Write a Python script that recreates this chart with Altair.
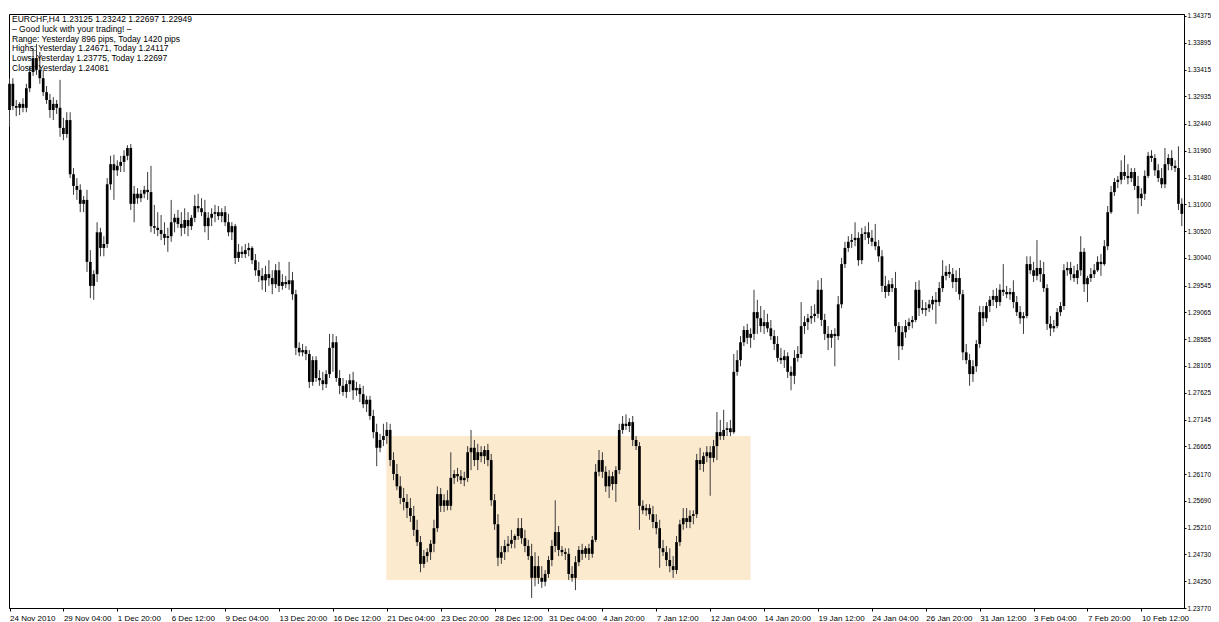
import json
import altair as alt
import pandas as pd

# ---- EURCHF H4 candles ----
opens = [
    1.3269, 1.3316, 1.3276, 1.3273, 1.3280, 1.3273, 1.3308, 1.3337, 1.3362, 1.3341, 1.3326, 1.3301, 1.3287, 1.3269, 1.3280, 1.3273,
    1.3237, 1.3226, 1.3251, 1.3154, 1.3133, 1.3126, 1.3101, 1.3108, 1.2997, 1.2954, 1.2975, 1.3050, 1.3022, 1.3029, 1.3136, 1.3172,
    1.3161, 1.3169, 1.3176, 1.3187, 1.3201, 1.3101, 1.3119, 1.3111, 1.3119, 1.3126, 1.3122, 1.3061, 1.3058, 1.3054, 1.3047, 1.3040,
    1.3043, 1.3068, 1.3076, 1.3065, 1.3058, 1.3072, 1.3061, 1.3076, 1.3097, 1.3093, 1.3086, 1.3061, 1.3076, 1.3083, 1.3086, 1.3079,
    1.3086, 1.3068, 1.3050, 1.3061, 1.3004, 1.3015, 1.3011, 1.3018, 1.3022, 1.3000, 1.2982, 1.2972, 1.2964, 1.2975, 1.2968, 1.2957,
    1.2982, 1.2954, 1.2961, 1.2957, 1.2964, 1.2939, 1.2843, 1.2835, 1.2839, 1.2832, 1.2782, 1.2821, 1.2789, 1.2785, 1.2778, 1.2796,
    1.2843, 1.2853, 1.2789, 1.2775, 1.2764, 1.2778, 1.2785, 1.2767, 1.2771, 1.2760, 1.2742, 1.2750, 1.2721, 1.2692, 1.2664, 1.2678,
    1.2685, 1.2696, 1.2642, 1.2617, 1.2595, 1.2574, 1.2567, 1.2556, 1.2542, 1.2517, 1.2495, 1.2456, 1.2470, 1.2477, 1.2492, 1.2520,
    1.2581, 1.2560, 1.2570, 1.2560, 1.2610, 1.2617, 1.2613, 1.2606, 1.2610, 1.2656, 1.2664, 1.2642, 1.2656, 1.2649, 1.2660, 1.2642,
    1.2570, 1.2527, 1.2467, 1.2477, 1.2488, 1.2492, 1.2499, 1.2506, 1.2520, 1.2502, 1.2488, 1.2470, 1.2431, 1.2452, 1.2431, 1.2424,
    1.2438, 1.2463, 1.2488, 1.2513, 1.2481, 1.2477, 1.2474, 1.2438, 1.2431, 1.2459, 1.2481, 1.2474, 1.2484, 1.2474, 1.2499, 1.2621,
    1.2642, 1.2621, 1.2595, 1.2613, 1.2599, 1.2624, 1.2696, 1.2707, 1.2703, 1.2710, 1.2678, 1.2667, 1.2560, 1.2552, 1.2556, 1.2545,
    1.2531, 1.2520, 1.2484, 1.2477, 1.2463, 1.2452, 1.2445, 1.2495, 1.2527, 1.2538, 1.2531, 1.2542, 1.2545, 1.2642, 1.2635, 1.2649,
    1.2656, 1.2646, 1.2667, 1.2692, 1.2685, 1.2696, 1.2699, 1.2692, 1.2800, 1.2821, 1.2853, 1.2875, 1.2861, 1.2868, 1.2907, 1.2896,
    1.2882, 1.2889, 1.2878, 1.2864, 1.2850, 1.2825, 1.2821, 1.2828, 1.2800, 1.2793, 1.2825, 1.2832, 1.2882, 1.2889, 1.2896, 1.2900,
    1.2904, 1.2947, 1.2893, 1.2868, 1.2861, 1.2868, 1.2864, 1.2921, 1.2993, 1.3022, 1.3033, 1.3036, 1.3040, 1.3000, 1.3047, 1.3050,
    1.3040, 1.3033, 1.3025, 1.3007, 1.2954, 1.2943, 1.2957, 1.2950, 1.2882, 1.2846, 1.2871, 1.2882, 1.2889, 1.2893, 1.2947, 1.2914,
    1.2911, 1.2914, 1.2921, 1.2929, 1.2925, 1.2950, 1.2972, 1.2979, 1.2975, 1.2961, 1.2968, 1.2939, 1.2835, 1.2821, 1.2796, 1.2810,
    1.2850, 1.2907, 1.2896, 1.2918, 1.2929, 1.2936, 1.2925, 1.2947, 1.2943, 1.2939, 1.2943, 1.2925, 1.2907, 1.2896, 1.2900, 1.2993,
    1.2982, 1.2972, 1.2986, 1.2975, 1.2950, 1.2886, 1.2878, 1.2882, 1.2907, 1.2918, 1.2982, 1.2986, 1.2975, 1.2968, 1.2982, 1.3015,
    1.2957, 1.2968, 1.2975, 1.2982, 1.2997, 1.2993, 1.3025, 1.3086, 1.3122, 1.3140, 1.3144, 1.3158, 1.3151, 1.3147, 1.3158, 1.3133,
    1.3111, 1.3119, 1.3151, 1.3187, 1.3183, 1.3161, 1.3147, 1.3136, 1.3172, 1.3183, 1.3169, 1.3165, 1.3101,
]
highs = [
    1.3326, 1.3326, 1.3287, 1.3283, 1.3290, 1.3316, 1.3348, 1.3380, 1.3387, 1.3373, 1.3341, 1.3312, 1.3298, 1.3292, 1.3287, 1.3323,
    1.3255, 1.3265, 1.3265, 1.3165, 1.3147, 1.3136, 1.3115, 1.3126, 1.3018, 1.2982, 1.3068, 1.3058, 1.3043, 1.3147, 1.3187, 1.3189,
    1.3179, 1.3187, 1.3197, 1.3206, 1.3208, 1.3133, 1.3129, 1.3126, 1.3133, 1.3158, 1.3169, 1.3099, 1.3086, 1.3081, 1.3068, 1.3058,
    1.3108, 1.3083, 1.3090, 1.3086, 1.3093, 1.3086, 1.3081, 1.3117, 1.3119, 1.3111, 1.3108, 1.3086, 1.3093, 1.3099, 1.3097, 1.3093,
    1.3097, 1.3083, 1.3068, 1.3065, 1.3029, 1.3025, 1.3029, 1.3031, 1.3025, 1.3011, 1.2997, 1.2986, 1.2990, 1.3000, 1.2982, 1.2993,
    1.2997, 1.2975, 1.2972, 1.2997, 1.2979, 1.2947, 1.2853, 1.2850, 1.2846, 1.2839, 1.2828, 1.2828, 1.2803, 1.2800, 1.2803, 1.2868,
    1.2868, 1.2864, 1.2803, 1.2789, 1.2785, 1.2796, 1.2800, 1.2782, 1.2778, 1.2775, 1.2757, 1.2757, 1.2732, 1.2707, 1.2689, 1.2707,
    1.2710, 1.2707, 1.2656, 1.2635, 1.2613, 1.2592, 1.2581, 1.2574, 1.2560, 1.2535, 1.2506, 1.2481, 1.2484, 1.2499, 1.2535, 1.2595,
    1.2592, 1.2581, 1.2588, 1.2656, 1.2624, 1.2628, 1.2624, 1.2621, 1.2667, 1.2696, 1.2678, 1.2671, 1.2667, 1.2667, 1.2671, 1.2653,
    1.2581, 1.2545, 1.2488, 1.2499, 1.2506, 1.2517, 1.2509, 1.2538, 1.2538, 1.2517, 1.2499, 1.2492, 1.2477, 1.2470, 1.2452, 1.2445,
    1.2470, 1.2499, 1.2570, 1.2524, 1.2488, 1.2484, 1.2484, 1.2452, 1.2470, 1.2488, 1.2492, 1.2488, 1.2492, 1.2506, 1.2635, 1.2660,
    1.2656, 1.2631, 1.2624, 1.2621, 1.2631, 1.2707, 1.2721, 1.2724, 1.2717, 1.2721, 1.2685, 1.2674, 1.2570, 1.2563, 1.2563, 1.2560,
    1.2545, 1.2535, 1.2499, 1.2488, 1.2484, 1.2470, 1.2506, 1.2535, 1.2556, 1.2556, 1.2552, 1.2552, 1.2653, 1.2664, 1.2656, 1.2667,
    1.2667, 1.2678, 1.2728, 1.2714, 1.2732, 1.2710, 1.2714, 1.2832, 1.2839, 1.2864, 1.2882, 1.2886, 1.2878, 1.2947, 1.2929, 1.2918,
    1.2911, 1.2904, 1.2893, 1.2875, 1.2864, 1.2843, 1.2839, 1.2835, 1.2810, 1.2839, 1.2846, 1.2925, 1.2900, 1.2904, 1.2918, 1.2921,
    1.2964, 1.2968, 1.2904, 1.2882, 1.2875, 1.2878, 1.2936, 1.3004, 1.3033, 1.3043, 1.3047, 1.3068, 1.3050, 1.3058, 1.3061, 1.3068,
    1.3054, 1.3065, 1.3036, 1.3018, 1.2972, 1.2964, 1.2968, 1.2979, 1.2889, 1.2882, 1.2893, 1.2896, 1.2900, 1.2961, 1.2964, 1.2929,
    1.2925, 1.2929, 1.2936, 1.2943, 1.2961, 1.3000, 1.2990, 1.2993, 1.2986, 1.2982, 1.2986, 1.2947, 1.2850, 1.2832, 1.2821, 1.2857,
    1.2918, 1.2918, 1.2925, 1.2936, 1.2947, 1.2950, 1.2957, 1.2993, 1.2954, 1.2950, 1.2964, 1.2936, 1.2918, 1.2907, 1.3007, 1.3007,
    1.2997, 1.3036, 1.3000, 1.2997, 1.2957, 1.2900, 1.2893, 1.2914, 1.2925, 1.2993, 1.2997, 1.2997, 1.2990, 1.2993, 1.3043, 1.3022,
    1.2972, 1.2986, 1.2993, 1.3007, 1.3011, 1.3036, 1.3097, 1.3133, 1.3147, 1.3151, 1.3179, 1.3188, 1.3172, 1.3165, 1.3165, 1.3151,
    1.3129, 1.3161, 1.3194, 1.3197, 1.3190, 1.3172, 1.3165, 1.3201, 1.3190, 1.3197, 1.3179, 1.3204, 1.3111,
]
lows = [
    1.3239, 1.3269, 1.3258, 1.3260, 1.3265, 1.3265, 1.3301, 1.3330, 1.3332, 1.3316, 1.3294, 1.3280, 1.3255, 1.3251, 1.3262, 1.3221,
    1.3215, 1.3219, 1.3147, 1.3117, 1.3108, 1.3086, 1.3086, 1.2979, 1.2932, 1.2929, 1.2961, 1.3007, 1.3007, 1.3022, 1.3126, 1.3108,
    1.3151, 1.3158, 1.3158, 1.3179, 1.3090, 1.3068, 1.3101, 1.3104, 1.3111, 1.3108, 1.3050, 1.3047, 1.3043, 1.3036, 1.3027, 1.3015,
    1.3033, 1.3050, 1.3058, 1.3043, 1.3047, 1.3043, 1.3054, 1.3068, 1.3086, 1.3079, 1.3050, 1.3036, 1.3061, 1.3068, 1.3072, 1.3068,
    1.3061, 1.3043, 1.3036, 1.2993, 1.2997, 1.3004, 1.3004, 1.3007, 1.2993, 1.2972, 1.2961, 1.2947, 1.2943, 1.2954, 1.2939, 1.2950,
    1.2943, 1.2947, 1.2950, 1.2947, 1.2929, 1.2830, 1.2828, 1.2828, 1.2821, 1.2771, 1.2775, 1.2782, 1.2775, 1.2767, 1.2771, 1.2789,
    1.2800, 1.2782, 1.2760, 1.2757, 1.2753, 1.2764, 1.2750, 1.2757, 1.2746, 1.2735, 1.2728, 1.2714, 1.2681, 1.2631, 1.2656, 1.2667,
    1.2671, 1.2631, 1.2606, 1.2588, 1.2563, 1.2552, 1.2538, 1.2531, 1.2506, 1.2488, 1.2441, 1.2449, 1.2459, 1.2463, 1.2477, 1.2513,
    1.2549, 1.2549, 1.2552, 1.2552, 1.2599, 1.2603, 1.2599, 1.2595, 1.2603, 1.2624, 1.2631, 1.2624, 1.2638, 1.2635, 1.2631, 1.2560,
    1.2517, 1.2452, 1.2456, 1.2463, 1.2477, 1.2484, 1.2484, 1.2499, 1.2492, 1.2477, 1.2463, 1.2395, 1.2416, 1.2420, 1.2413, 1.2416,
    1.2431, 1.2452, 1.2477, 1.2470, 1.2470, 1.2463, 1.2427, 1.2424, 1.2409, 1.2452, 1.2463, 1.2467, 1.2463, 1.2467, 1.2495, 1.2613,
    1.2610, 1.2585, 1.2574, 1.2588, 1.2567, 1.2617, 1.2689, 1.2696, 1.2692, 1.2667, 1.2660, 1.2517, 1.2545, 1.2542, 1.2535, 1.2520,
    1.2509, 1.2449, 1.2470, 1.2452, 1.2441, 1.2431, 1.2438, 1.2488, 1.2517, 1.2520, 1.2520, 1.2527, 1.2538, 1.2624, 1.2621, 1.2638,
    1.2578, 1.2638, 1.2642, 1.2678, 1.2678, 1.2685, 1.2685, 1.2689, 1.2793, 1.2810, 1.2846, 1.2850, 1.2843, 1.2857, 1.2868, 1.2871,
    1.2868, 1.2871, 1.2857, 1.2839, 1.2818, 1.2814, 1.2807, 1.2789, 1.2767, 1.2778, 1.2818, 1.2825, 1.2868, 1.2875, 1.2886, 1.2889,
    1.2896, 1.2882, 1.2857, 1.2839, 1.2843, 1.2810, 1.2857, 1.2914, 1.2986, 1.3015, 1.3022, 1.3025, 1.2990, 1.2993, 1.3036, 1.3029,
    1.3025, 1.3018, 1.2997, 1.2943, 1.2932, 1.2936, 1.2943, 1.2871, 1.2821, 1.2839, 1.2861, 1.2875, 1.2878, 1.2889, 1.2900, 1.2904,
    1.2900, 1.2907, 1.2911, 1.2886, 1.2918, 1.2943, 1.2964, 1.2968, 1.2950, 1.2943, 1.2929, 1.2821, 1.2814, 1.2775, 1.2782, 1.2800,
    1.2843, 1.2882, 1.2889, 1.2907, 1.2918, 1.2914, 1.2918, 1.2936, 1.2932, 1.2929, 1.2914, 1.2900, 1.2886, 1.2868, 1.2896, 1.2975,
    1.2961, 1.2964, 1.2961, 1.2943, 1.2875, 1.2864, 1.2871, 1.2878, 1.2900, 1.2911, 1.2972, 1.2964, 1.2961, 1.2957, 1.2972, 1.2943,
    1.2925, 1.2961, 1.2968, 1.2979, 1.2972, 1.2990, 1.3018, 1.3083, 1.3115, 1.3129, 1.3136, 1.3144, 1.3136, 1.3140, 1.3126, 1.3083,
    1.3097, 1.3108, 1.3147, 1.3176, 1.3151, 1.3140, 1.3129, 1.3129, 1.3161, 1.3161, 1.3158, 1.3090, 1.3061,
]
closes = [
    1.3316, 1.3276, 1.3273, 1.3280, 1.3273, 1.3308, 1.3337, 1.3362, 1.3341, 1.3326, 1.3301, 1.3287, 1.3269, 1.3280, 1.3273, 1.3237,
    1.3226, 1.3251, 1.3154, 1.3133, 1.3126, 1.3101, 1.3108, 1.2997, 1.2954, 1.2975, 1.3050, 1.3022, 1.3029, 1.3136, 1.3172, 1.3161,
    1.3169, 1.3176, 1.3187, 1.3201, 1.3101, 1.3119, 1.3111, 1.3119, 1.3126, 1.3122, 1.3061, 1.3058, 1.3054, 1.3047, 1.3040, 1.3043,
    1.3068, 1.3076, 1.3065, 1.3058, 1.3072, 1.3061, 1.3076, 1.3097, 1.3093, 1.3086, 1.3061, 1.3076, 1.3083, 1.3086, 1.3079, 1.3086,
    1.3068, 1.3050, 1.3061, 1.3004, 1.3015, 1.3011, 1.3018, 1.3022, 1.3000, 1.2982, 1.2972, 1.2964, 1.2975, 1.2968, 1.2957, 1.2982,
    1.2954, 1.2961, 1.2957, 1.2964, 1.2939, 1.2843, 1.2835, 1.2839, 1.2832, 1.2782, 1.2821, 1.2789, 1.2785, 1.2778, 1.2796, 1.2843,
    1.2853, 1.2789, 1.2775, 1.2764, 1.2778, 1.2785, 1.2767, 1.2771, 1.2760, 1.2742, 1.2750, 1.2721, 1.2692, 1.2664, 1.2678, 1.2685,
    1.2696, 1.2642, 1.2617, 1.2595, 1.2574, 1.2567, 1.2556, 1.2542, 1.2517, 1.2495, 1.2456, 1.2470, 1.2477, 1.2492, 1.2520, 1.2581,
    1.2560, 1.2570, 1.2560, 1.2610, 1.2617, 1.2613, 1.2606, 1.2610, 1.2656, 1.2664, 1.2642, 1.2656, 1.2649, 1.2660, 1.2642, 1.2570,
    1.2527, 1.2467, 1.2477, 1.2488, 1.2492, 1.2499, 1.2506, 1.2520, 1.2502, 1.2488, 1.2470, 1.2431, 1.2452, 1.2431, 1.2424, 1.2438,
    1.2463, 1.2488, 1.2513, 1.2481, 1.2477, 1.2474, 1.2438, 1.2431, 1.2459, 1.2481, 1.2474, 1.2484, 1.2474, 1.2499, 1.2621, 1.2642,
    1.2621, 1.2595, 1.2613, 1.2599, 1.2624, 1.2696, 1.2707, 1.2703, 1.2710, 1.2678, 1.2667, 1.2560, 1.2552, 1.2556, 1.2545, 1.2531,
    1.2520, 1.2484, 1.2477, 1.2463, 1.2452, 1.2445, 1.2495, 1.2527, 1.2538, 1.2531, 1.2542, 1.2545, 1.2642, 1.2635, 1.2649, 1.2656,
    1.2646, 1.2667, 1.2692, 1.2685, 1.2696, 1.2699, 1.2692, 1.2800, 1.2821, 1.2853, 1.2875, 1.2861, 1.2868, 1.2907, 1.2896, 1.2882,
    1.2889, 1.2878, 1.2864, 1.2850, 1.2825, 1.2821, 1.2828, 1.2800, 1.2793, 1.2825, 1.2832, 1.2882, 1.2889, 1.2896, 1.2900, 1.2904,
    1.2947, 1.2893, 1.2868, 1.2861, 1.2868, 1.2864, 1.2921, 1.2993, 1.3022, 1.3033, 1.3036, 1.3040, 1.3000, 1.3047, 1.3050, 1.3040,
    1.3033, 1.3025, 1.3007, 1.2954, 1.2943, 1.2957, 1.2950, 1.2882, 1.2846, 1.2871, 1.2882, 1.2889, 1.2893, 1.2947, 1.2914, 1.2911,
    1.2914, 1.2921, 1.2929, 1.2925, 1.2950, 1.2972, 1.2979, 1.2975, 1.2961, 1.2968, 1.2939, 1.2835, 1.2821, 1.2796, 1.2810, 1.2850,
    1.2907, 1.2896, 1.2918, 1.2929, 1.2936, 1.2925, 1.2947, 1.2943, 1.2939, 1.2943, 1.2925, 1.2907, 1.2896, 1.2900, 1.2993, 1.2982,
    1.2972, 1.2986, 1.2975, 1.2950, 1.2886, 1.2878, 1.2882, 1.2907, 1.2918, 1.2982, 1.2986, 1.2975, 1.2968, 1.2982, 1.3015, 1.2957,
    1.2968, 1.2975, 1.2982, 1.2997, 1.2993, 1.3025, 1.3086, 1.3122, 1.3140, 1.3144, 1.3158, 1.3151, 1.3147, 1.3158, 1.3133, 1.3111,
    1.3119, 1.3151, 1.3187, 1.3183, 1.3161, 1.3147, 1.3136, 1.3172, 1.3183, 1.3169, 1.3165, 1.3101, 1.3083,
]

# ---- axis texts ----
time_labels = [
    "24 Nov 2010", "29 Nov 04:00", "1 Dec 20:00", "6 Dec 12:00", "9 Dec 04:00", "13 Dec 20:00",
    "16 Dec 12:00", "21 Dec 04:00", "23 Dec 20:00", "28 Dec 12:00", "31 Dec 04:00", "4 Jan 20:00",
    "7 Jan 12:00", "12 Jan 04:00", "14 Jan 20:00", "19 Jan 12:00", "24 Jan 04:00", "26 Jan 20:00",
    "31 Jan 12:00", "3 Feb 04:00", "7 Feb 20:00", "10 Feb 12:00",
]
bars_per_label = 16
price_ticks = [
    1.34375, 1.33895, 1.33415, 1.32935, 1.32440, 1.31960, 1.31480, 1.31000, 1.30520, 1.30040,
    1.29545, 1.29065, 1.28585, 1.28105, 1.27625, 1.27145, 1.26665, 1.26170, 1.25690, 1.25210,
    1.24730, 1.24250, 1.23770,
]
comment_lines = [
    "EURCHF,H4  1.23125 1.23242 1.22697 1.22949",
    "\u2013 Good luck with your trading! \u2013",
    "Range: Yesterday 896 pips, Today 1420 pips",
    "Highs: Yesterday 1.24671, Today 1.24117",
    "Lows: Yesterday 1.23775, Today 1.22697",
    "Close: Yesterday 1.24081",
]

# ---- highlighted range box (bar index and price) ----
box_bars = [111.85, 220.0]
box_prices = [1.2427, 1.2685]

n = len(closes)
df = pd.DataFrame({
    "bar": list(range(n)),
    "open": opens, "high": highs, "low": lows, "close": closes,
})
box_df = pd.DataFrame({"x0": [box_bars[0]], "x1": [box_bars[1]],
                       "y0": [box_prices[0]], "y1": [box_prices[1]]})
text_df = pd.DataFrame({"t": ["\n".join(comment_lines)]})

FONT = "Liberation Sans"
x_scale = alt.Scale(domain=[-0.15, n - 0.35], nice=False, zero=False, padding=0)
y_scale = alt.Scale(domain=[1.2377, 1.3441], nice=False, zero=False, padding=0)

label_expr = json.dumps(time_labels) + "[round(datum.value / %d)]" % bars_per_label
x_axis = alt.Axis(
    values=list(range(0, len(time_labels) * bars_per_label, bars_per_label)),
    labelExpr=label_expr, title=None, grid=False,
    labelAlign="left", labelBaseline="top", labelFlush=False, labelOverlap=False,
    labelFont=FONT, labelFontSize=8, labelColor="black", labelPadding=3,
    tickColor="black", tickSize=3, domainColor="black",
)
y_axis = alt.Axis(
    orient="right", values=price_ticks, format=".5f", title=None, grid=False,
    labelFont=FONT, labelFontSize=6.5, labelColor="black", labelPadding=1,
    labelOverlap=False, labelFlush=False,
    tickColor="black", tickSize=2, domainColor="black",
)

box = alt.Chart(box_df).mark_rect(color="#FCEACF").encode(
    x=alt.X("x0:Q", scale=x_scale, axis=x_axis), x2="x1:Q",
    y=alt.Y("y0:Q", scale=y_scale, axis=y_axis), y2="y1:Q",
)

base = alt.Chart(df)
wicks = base.mark_rule(color="#3a3a3a", strokeWidth=1).encode(
    x=alt.X("bar:Q", scale=x_scale, axis=x_axis),
    y=alt.Y("low:Q", scale=y_scale, axis=y_axis), y2="high:Q",
)
bodies = base.mark_bar(size=2.7, color="black").encode(
    x=alt.X("bar:Q", scale=x_scale, axis=x_axis),
    y=alt.Y("open:Q", scale=y_scale, axis=y_axis), y2="close:Q",
)

comment = alt.Chart(text_df).mark_text(
    align="left", baseline="top", lineBreak="\n", lineHeight=9.8,
    font=FONT, fontSize=8.5, color="black",
).encode(x=alt.value(3), y=alt.value(1), text="t:N")

# total canvas width 1 + 1175 + 27 = 1203 = page width minus margins (no rescaling)
chart = alt.layer(box, wicks, bodies, comment).properties(
    width=1175, height=594,
    padding={"left": 1, "top": 6, "right": 27, "bottom": 14},
    autosize=alt.AutoSizeParams(type="none"),
    background="white",
).configure_view(stroke="black", strokeWidth=1)

chart.save("out.html", embed_options={"renderer": "svg", "actions": False})
